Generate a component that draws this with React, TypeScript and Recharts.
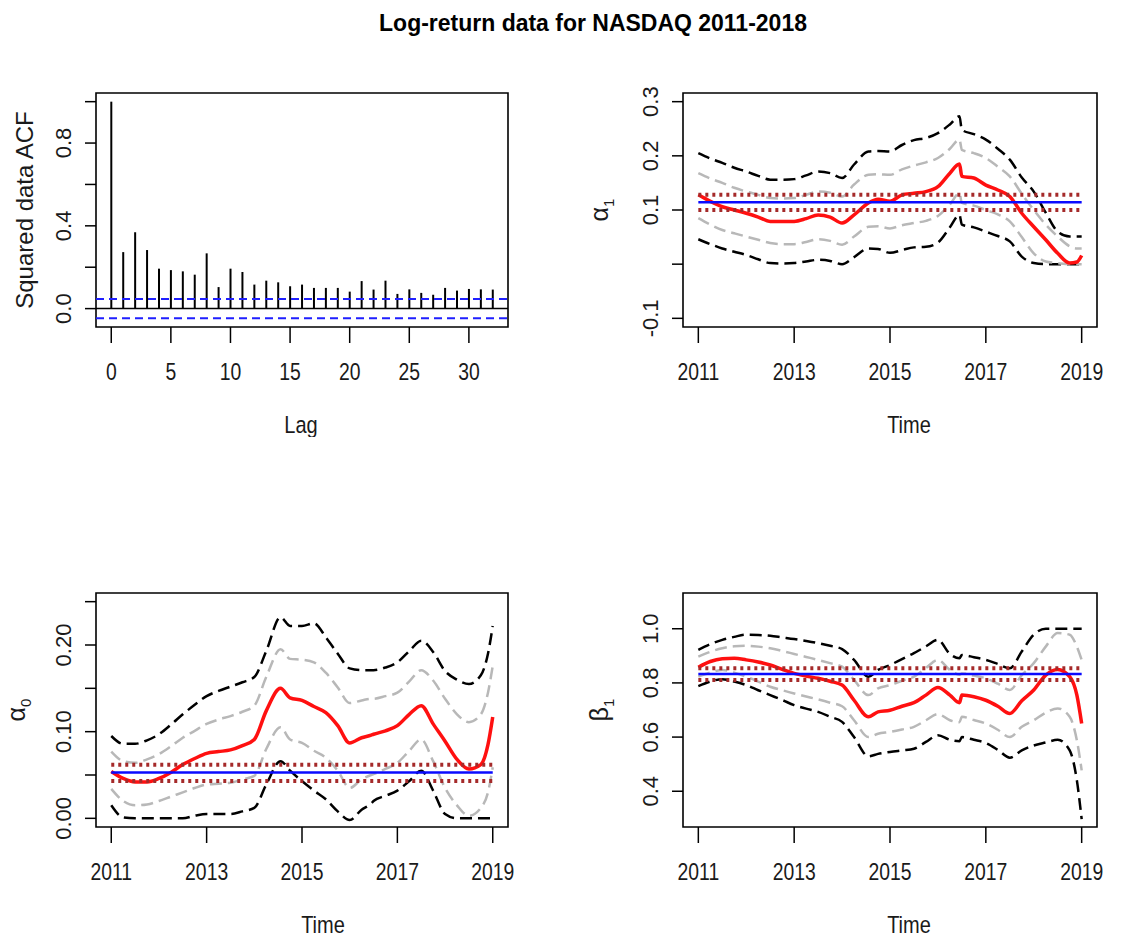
import React from "react";
import {
  Bar,
  ComposedChart,
  Line,
  ReferenceArea,
  ReferenceLine,
  XAxis,
  YAxis,
} from "recharts";

// ---- squared-data ACF ----
const lags = [
  0, 1, 2, 3, 4, 5, 6, 7, 8, 9, 10, 11, 12, 13, 14, 15, 16, 17, 18, 19, 20, 21, 22, 23, 24, 25, 26,
  27, 28, 29, 30, 31, 32,
];
const acfValues = [
  1.0, 0.273, 0.369, 0.283, 0.193, 0.186, 0.18, 0.164, 0.267, 0.104, 0.193, 0.177, 0.116, 0.135,
  0.127, 0.108, 0.116, 0.1, 0.1, 0.1, 0.082, 0.133, 0.092, 0.135, 0.071, 0.093, 0.076, 0.067, 0.1,
  0.087, 0.095, 0.093, 0.092,
];
const acfBound = 0.047;
const acfXTicks = [0, 5, 10, 15, 20, 25, 30];
const acfYTicks = [0, 0.2, 0.4, 0.6, 0.8, 1.0];
const acfYLabels = ["0.0", "", "0.4", "", "0.8", ""];

// ---- time-varying estimates (shared time grid) ----
const years = [
  2011, 2011.25, 2011.5, 2011.75, 2012, 2012.25, 2012.5, 2012.75, 2013, 2013.25, 2013.5, 2013.75,
  2014, 2014.25, 2014.55, 2014.75, 2015, 2015.25, 2015.5, 2015.75, 2016, 2016.25, 2016.45, 2016.5,
  2016.75, 2017, 2017.25, 2017.5, 2017.75, 2018, 2018.25, 2018.5, 2018.75, 2018.9, 2019,
];
const timeTicks = [2011, 2013, 2015, 2017, 2019];
const timeLabels = ["2011", "2013", "2015", "2017", "2019"];

// alpha_1
const a1Est = [
  0.128, 0.116, 0.106, 0.1, 0.094, 0.087, 0.079, 0.079, 0.079, 0.084, 0.091, 0.087, 0.076, 0.091,
  0.113, 0.12, 0.116, 0.128, 0.131, 0.134, 0.143, 0.168, 0.185, 0.162, 0.159, 0.146, 0.137, 0.125,
  0.094, 0.069, 0.045, 0.02, 0.002, 0.004, 0.016,
];
const a1Up95 = [
  0.205, 0.195, 0.187, 0.178, 0.171, 0.163, 0.156, 0.156, 0.157, 0.164, 0.171, 0.168, 0.159, 0.184,
  0.208, 0.209, 0.208, 0.22, 0.229, 0.233, 0.242, 0.258, 0.273, 0.248, 0.24, 0.23, 0.213, 0.193,
  0.16, 0.134, 0.095, 0.06, 0.051, 0.051, 0.051,
];
const a1Up90 = [
  0.168, 0.158, 0.15, 0.141, 0.134, 0.128, 0.122, 0.121, 0.122, 0.128, 0.134, 0.132, 0.125, 0.147,
  0.165, 0.166, 0.165, 0.175, 0.182, 0.188, 0.196, 0.213, 0.23, 0.211, 0.205, 0.196, 0.18, 0.162,
  0.13, 0.1, 0.073, 0.051, 0.033, 0.029, 0.029,
];
const a1Lo90 = [
  0.085, 0.073, 0.063, 0.057, 0.051, 0.045, 0.039, 0.037, 0.037, 0.041, 0.046, 0.043, 0.036, 0.051,
  0.069, 0.07, 0.066, 0.072, 0.076, 0.08, 0.089, 0.11, 0.131, 0.113, 0.108, 0.1, 0.092, 0.079, 0.05,
  0.02, 0.005, 0.002, 0, 0, 0,
];
const a1Lo95 = [
  0.046, 0.037, 0.029, 0.023, 0.017, 0.009, 0.002, 0.001, 0.002, 0.005, 0.008, 0.006, 0, 0.013,
  0.029, 0.028, 0.021, 0.026, 0.031, 0.032, 0.04, 0.068, 0.091, 0.073, 0.068, 0.06, 0.052, 0.042,
  0.014, 0.002, 0, 0, 0, 0, 0,
];
const a1Fixed = [0.1145, 0.1, 0.128];
const a1YTicks = [-0.1, 0, 0.1, 0.2, 0.3];
const a1YLabels = ["-0.1", "", "0.1", "0.2", "0.3"];

// alpha_0
const a0Est = [
  0.054, 0.046, 0.042, 0.042, 0.046, 0.053, 0.062, 0.069, 0.075, 0.077, 0.079, 0.084, 0.091, 0.124,
  0.15, 0.139, 0.136, 0.129, 0.122, 0.107, 0.087, 0.093, 0.096, 0.097, 0.101, 0.107, 0.12, 0.13,
  0.109, 0.089, 0.068, 0.057, 0.062, 0.085, 0.117,
];
const a0Up95 = [
  0.095, 0.086, 0.086, 0.09, 0.097, 0.108, 0.12, 0.131, 0.141, 0.147, 0.152, 0.157, 0.163, 0.193,
  0.232, 0.222, 0.222, 0.225, 0.209, 0.19, 0.173, 0.171, 0.171, 0.171, 0.174, 0.18, 0.193, 0.205,
  0.192, 0.17, 0.16, 0.155, 0.165, 0.19, 0.222,
];
const a0Up90 = [
  0.077, 0.066, 0.064, 0.068, 0.074, 0.083, 0.093, 0.101, 0.109, 0.114, 0.118, 0.123, 0.13, 0.163,
  0.195, 0.184, 0.183, 0.18, 0.168, 0.151, 0.133, 0.136, 0.138, 0.138, 0.141, 0.145, 0.158, 0.171,
  0.159, 0.138, 0.12, 0.111, 0.12, 0.145, 0.176,
];
const a0Lo90 = [
  0.034, 0.02, 0.015, 0.016, 0.02, 0.025, 0.03, 0.035, 0.039, 0.04, 0.041, 0.045, 0.049, 0.08,
  0.105, 0.091, 0.087, 0.078, 0.07, 0.055, 0.035, 0.045, 0.05, 0.051, 0.057, 0.064, 0.078, 0.091,
  0.066, 0.035, 0.015, 0.003, 0.012, 0.03, 0.059,
];
const a0Lo95 = [
  0.015, 0.001, 0, 0, 0, 0, 0, 0.003, 0.005, 0.005, 0.005, 0.008, 0.012, 0.039, 0.066, 0.055,
  0.043, 0.032, 0.022, 0.008, -0.002, 0.01, 0.017, 0.02, 0.026, 0.032, 0.043, 0.055, 0.032, 0.005,
  0, 0, 0, 0, 0,
];
const a0Fixed = [0.0528, 0.0432, 0.0617];
const a0YTicks = [0, 0.05, 0.1, 0.15, 0.2, 0.25];
const a0YLabels = ["0.00", "", "0.10", "", "0.20", ""];

// beta_1
const b1Est = [
  0.858, 0.879, 0.889, 0.891, 0.885, 0.877, 0.866, 0.85, 0.835, 0.825, 0.817, 0.806, 0.792, 0.736,
  0.675, 0.693, 0.699, 0.714, 0.727, 0.755, 0.783, 0.755, 0.727, 0.755, 0.749, 0.736, 0.714, 0.687,
  0.734, 0.774, 0.829, 0.85, 0.823, 0.755, 0.65,
];
const b1Up95 = [
  0.922, 0.943, 0.959, 0.97, 0.978, 0.977, 0.974, 0.968, 0.962, 0.955, 0.947, 0.937, 0.925, 0.885,
  0.823, 0.848, 0.866, 0.888, 0.91, 0.935, 0.959, 0.907, 0.891, 0.903, 0.895, 0.885, 0.87, 0.854,
  0.916, 0.978, 1, 1, 1, 1, 1,
];
const b1Up90 = [
  0.897, 0.915, 0.928, 0.935, 0.937, 0.934, 0.928, 0.918, 0.907, 0.896, 0.885, 0.873, 0.86, 0.811,
  0.755, 0.78, 0.792, 0.808, 0.823, 0.855, 0.885, 0.848, 0.83, 0.835, 0.827, 0.817, 0.797, 0.774,
  0.829, 0.873, 0.934, 0.984, 0.978, 0.934, 0.885,
];
const b1Lo90 = [
  0.823, 0.838, 0.848, 0.838, 0.823, 0.805, 0.786, 0.773, 0.761, 0.75, 0.739, 0.727, 0.714, 0.662,
  0.6, 0.612, 0.619, 0.628, 0.638, 0.662, 0.685, 0.662, 0.655, 0.675, 0.663, 0.65, 0.627, 0.6,
  0.638, 0.662, 0.69, 0.706, 0.675, 0.588, 0.477,
];
const b1Lo95 = [
  0.788, 0.805, 0.814, 0.805, 0.792, 0.773, 0.755, 0.737, 0.718, 0.705, 0.693, 0.675, 0.656, 0.6,
  0.529, 0.538, 0.545, 0.551, 0.557, 0.582, 0.607, 0.59, 0.585, 0.6, 0.59, 0.578, 0.553, 0.524,
  0.551, 0.569, 0.58, 0.59, 0.551, 0.44, 0.297,
];
const b1Fixed = [0.833, 0.811, 0.854];
const b1YTicks = [0.4, 0.6, 0.8, 1.0];
const b1YLabels = ["0.4", "0.6", "0.8", "1.0"];

// ---- layout ----
const PAD_L = 130;
const PAD_T = 12;
const PAD_R = 20;
const PAD_B = 110;
const YW = 40;
const XH = 60;
const PLOT_H = 234;
const TIME_DOMAIN = [2010.68, 2019.32];

const SANS = "'Liberation Sans', Arial, Helvetica, sans-serif";
const INK = "#1a1a1a";

// the reference's horizontal text is narrower and taller than plain Arial
function XTick({ x, payload, ticks, labels }: any) {
  const i = ticks.findIndex((t: number) => Math.abs(t - payload.value) < 1e-9);
  const by = PAD_T + PLOT_H + 53;
  return (
    <text
      transform={`translate(${x} ${by}) scale(0.88 1.1)`}
      x={0}
      y={0}
      textAnchor="middle"
      fontSize={22}
      fontFamily={SANS}
      fill={INK}
    >
      {i >= 0 ? labels[i] : ""}
    </text>
  );
}

function YTick({ y, payload, ticks, labels }: any) {
  const i = ticks.findIndex((t: number) => Math.abs(t - payload.value) < 1e-9);
  const bx = PAD_L - 25;
  return (
    <text
      x={bx}
      y={y}
      transform={`rotate(-90 ${bx} ${y})`}
      textAnchor="middle"
      fontSize={22}
      fontFamily={SANS}
      fill={INK}
    >
      {i >= 0 ? labels[i] : ""}
    </text>
  );
}

function XTitle({ cx, title }: any) {
  const by = PAD_T + PLOT_H + 106;
  return (
    <text
      transform={`translate(${cx} ${by}) scale(0.87 1.06)`}
      x={0}
      y={0}
      textAnchor="middle"
      fontSize={23}
      fontFamily={SANS}
      fill={INK}
    >
      {title}
    </text>
  );
}

function YTitle({ off, greek, sub, title }: any) {
  const bx = PAD_L - off;
  const cy = PAD_T + PLOT_H / 2;
  return (
    <text
      x={bx}
      y={cy}
      transform={`rotate(-90 ${bx} ${cy})`}
      textAnchor="middle"
      fontSize={greek ? 25 : 24}
      fontFamily={SANS}
      fill={INK}
    >
      {greek ? (
        <>
          {greek}
          <tspan fontSize={15} dy={6}>
            {sub}
          </tspan>
        </>
      ) : (
        title
      )}
    </text>
  );
}

function AcfPanel({ left, top, plotW }: any) {
  const rows = lags.map((lag, i) => ({ lag, acf: acfValues[i] }));
  const xDom = [-1.28, 33.28];
  const yDom = [-0.0889, 1.0419];
  return (
    <div style={{ position: "absolute", left: left - PAD_L, top: top - PAD_T }}>
      <ComposedChart
        width={plotW + PAD_L + PAD_R}
        height={PLOT_H + PAD_T + PAD_B}
        data={rows}
        margin={{ top: PAD_T, right: PAD_R, left: PAD_L - YW, bottom: PAD_B - XH }}
      >
        <XAxis
          dataKey="lag"
          type="number"
          domain={xDom}
          ticks={acfXTicks}
          interval={0}
          allowDataOverflow
          axisLine={false}
          tickSize={16}
          tickLine={{ stroke: "#000", strokeWidth: 1.5 }}
          tick={<XTick ticks={acfXTicks} labels={acfXTicks.map(String)} />}
          height={XH}
          label={<XTitle cx={PAD_L + 205} title="Lag" />}
        />
        <YAxis
          type="number"
          domain={yDom}
          ticks={acfYTicks}
          interval={0}
          allowDataOverflow
          axisLine={false}
          tickSize={11}
          tickLine={{ stroke: "#000", strokeWidth: 1.5 }}
          tick={<YTick ticks={acfYTicks} labels={acfYLabels} />}
          width={YW}
          label={<YTitle off={63} title="Squared data ACF" />}
        />
        <ReferenceLine y={0} stroke="#000" strokeWidth={1.5} />
        <Bar dataKey="acf" barSize={2} fill="#000" isAnimationActive={false} />
        <ReferenceLine y={acfBound} stroke="#1f1fff" strokeWidth={2} strokeDasharray="8 5" />
        <ReferenceLine y={-acfBound} stroke="#1f1fff" strokeWidth={2} strokeDasharray="8 5" />
        <ReferenceArea
          x1={xDom[0]}
          x2={xDom[1]}
          y1={yDom[0]}
          y2={yDom[1]}
          fill="none"
          stroke="#000"
          strokeWidth={1.6}
          ifOverflow="visible"
        />
      </ComposedChart>
    </div>
  );
}

function TimePanel({
  left,
  top,
  plotW,
  est,
  up95,
  lo95,
  up90,
  lo90,
  fixed,
  yDom,
  yTicks,
  yLabels,
  greek,
  sub,
  titleOff,
  labelOff,
}: any) {
  const rows = years.map((t, i) => ({
    t,
    est: est[i],
    up95: up95[i],
    lo95: lo95[i],
    up90: up90[i],
    lo90: lo90[i],
  }));
  const seg = (v: number) => [
    { x: 2011, y: v },
    { x: 2019, y: v },
  ];
  return (
    <div style={{ position: "absolute", left: left - PAD_L, top: top - PAD_T }}>
      <ComposedChart
        width={plotW + PAD_L + PAD_R}
        height={PLOT_H + PAD_T + PAD_B}
        data={rows}
        margin={{ top: PAD_T, right: PAD_R, left: PAD_L - YW, bottom: PAD_B - XH }}
      >
        <XAxis
          dataKey="t"
          type="number"
          domain={TIME_DOMAIN}
          ticks={timeTicks}
          interval={0}
          allowDataOverflow
          axisLine={false}
          tickSize={16}
          tickLine={{ stroke: "#000", strokeWidth: 1.5 }}
          tick={<XTick ticks={timeTicks} labels={timeLabels} />}
          height={XH}
          label={<XTitle cx={PAD_L + titleOff} title="Time" />}
        />
        <YAxis
          type="number"
          domain={yDom}
          ticks={yTicks}
          interval={0}
          allowDataOverflow
          axisLine={false}
          tickSize={11}
          tickLine={{ stroke: "#000", strokeWidth: 1.5 }}
          tick={<YTick ticks={yTicks} labels={yLabels} />}
          width={YW}
          label={<YTitle off={labelOff} greek={greek} sub={sub} />}
        />
        <Line dataKey="up95" type="monotone" stroke="#000" strokeWidth={2.5} strokeDasharray="12 6" dot={false} isAnimationActive={false} />
        <Line dataKey="lo95" type="monotone" stroke="#000" strokeWidth={2.5} strokeDasharray="12 6" dot={false} isAnimationActive={false} />
        <Line dataKey="up90" type="monotone" stroke="#b8b8b8" strokeWidth={2.5} strokeDasharray="12 6" dot={false} isAnimationActive={false} />
        <Line dataKey="lo90" type="monotone" stroke="#b8b8b8" strokeWidth={2.5} strokeDasharray="12 6" dot={false} isAnimationActive={false} />
        <Line dataKey="est" type="monotone" stroke="#ff1010" strokeWidth={3.5} dot={false} isAnimationActive={false} />
        <ReferenceLine segment={seg(fixed[1])} stroke="#a52a2a" strokeWidth={4} strokeDasharray="3 4" />
        <ReferenceLine segment={seg(fixed[2])} stroke="#a52a2a" strokeWidth={4} strokeDasharray="3 4" />
        <ReferenceLine segment={seg(fixed[0])} stroke="#0a0aff" strokeWidth={2.5} />
        <ReferenceArea
          x1={TIME_DOMAIN[0]}
          x2={TIME_DOMAIN[1]}
          y1={yDom[0]}
          y2={yDom[1]}
          fill="none"
          stroke="#000"
          strokeWidth={1.6}
          ifOverflow="visible"
        />
      </ComposedChart>
    </div>
  );
}

export default function App() {
  return (
    <div
      style={{
        position: "absolute",
        left: 0,
        top: 0,
        width: 1137,
        height: 938,
        overflow: "hidden",
        background: "#fff",
        fontFamily: SANS,
      }}
    >
      <svg width={1137} height={50} style={{ position: "absolute", left: 0, top: 0 }}>
        <text
          transform="translate(593 31) scale(1 1.08)"
          x={0}
          y={0}
          textAnchor="middle"
          fontSize={23}
          fontWeight="bold"
          fontFamily={SANS}
          fill="#000"
        >
          Log-return data for NASDAQ 2011-2018
        </text>
      </svg>
      <AcfPanel left={96} top={93} plotW={412} />
      <TimePanel
        left={683}
        top={93}
        plotW={414}
        est={a1Est}
        up95={a1Up95}
        lo95={a1Lo95}
        up90={a1Up90}
        lo90={a1Lo90}
        fixed={a1Fixed}
        yDom={[-0.116, 0.316]}
        yTicks={a1YTicks}
        yLabels={a1YLabels}
        greek="α"
        sub="1"
        titleOff={226}
        labelOff={75}
      />
      <TimePanel
        left={96}
        top={593}
        plotW={412}
        est={a0Est}
        up95={a0Up95}
        lo95={a0Lo95}
        up90={a0Up90}
        lo90={a0Lo90}
        fixed={a0Fixed}
        yDom={[-0.01, 0.26]}
        yTicks={a0YTicks}
        yLabels={a0YLabels}
        greek="α"
        sub="0"
        titleOff={227}
        labelOff={71}
      />
      <TimePanel
        left={683}
        top={593}
        plotW={414}
        est={b1Est}
        up95={b1Up95}
        lo95={b1Lo95}
        up90={b1Up90}
        lo90={b1Lo90}
        fixed={b1Fixed}
        yDom={[0.268, 1.132]}
        yTicks={b1YTicks}
        yLabels={b1YLabels}
        greek="β"
        sub="1"
        titleOff={226}
        labelOff={75}
      />
    </div>
  );
}
